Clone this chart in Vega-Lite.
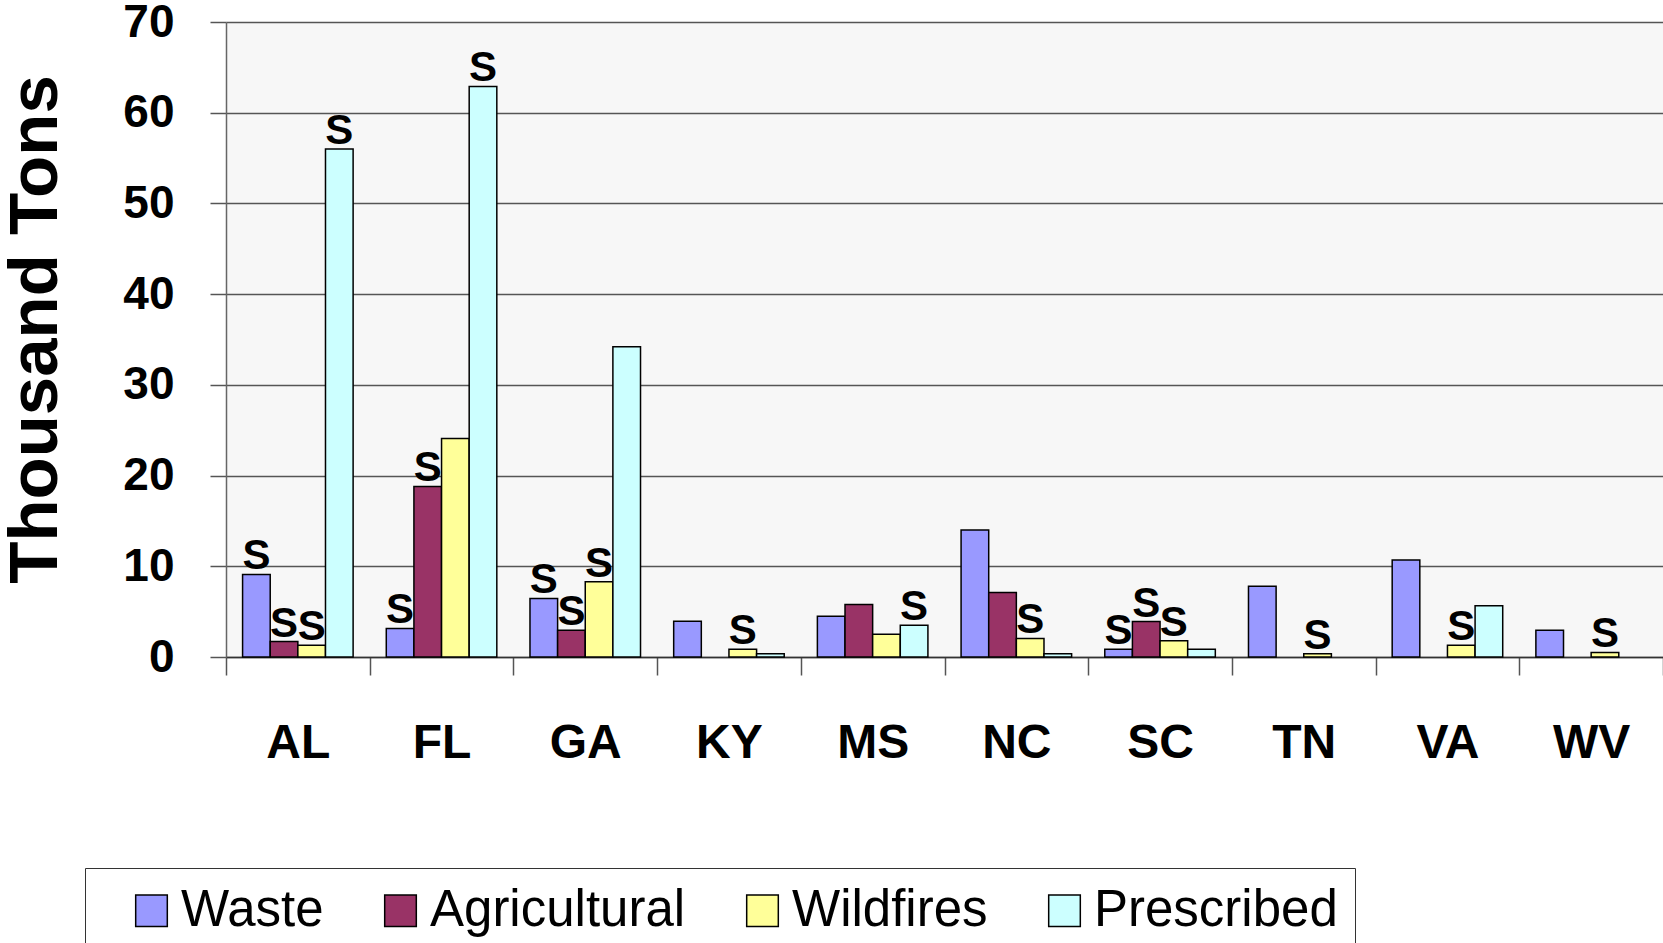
{
  "$schema": "https://vega.github.io/schema/vega-lite/v6.json",
  "width": 1437,
  "height": 635,
  "autosize": {"type": "none"},
  "padding": {"left": 226, "top": 22, "right": 0, "bottom": 286},
  "background": "white",
  "config": {
    "view": {"fill": "#f7f7f7", "stroke": null},
    "font": "Liberation Sans"
  },
  "data": {
    "values": [
      {"state": "AL", "type": "Waste", "value": 9.1, "s": "S"},
      {"state": "AL", "type": "Agricultural", "value": 1.7, "s": "S"},
      {"state": "AL", "type": "Wildfires", "value": 1.3, "s": "S"},
      {"state": "AL", "type": "Prescribed", "value": 56.0, "s": "S"},
      {"state": "FL", "type": "Waste", "value": 3.15, "s": "S"},
      {"state": "FL", "type": "Agricultural", "value": 18.8, "s": "S"},
      {"state": "FL", "type": "Wildfires", "value": 24.1, "s": ""},
      {"state": "FL", "type": "Prescribed", "value": 62.9, "s": "S"},
      {"state": "GA", "type": "Waste", "value": 6.45, "s": "S"},
      {"state": "GA", "type": "Agricultural", "value": 2.95, "s": "S"},
      {"state": "GA", "type": "Wildfires", "value": 8.3, "s": "S"},
      {"state": "GA", "type": "Prescribed", "value": 34.2, "s": ""},
      {"state": "KY", "type": "Waste", "value": 3.95, "s": ""},
      {"state": "KY", "type": "Wildfires", "value": 0.85, "s": "S"},
      {"state": "KY", "type": "Prescribed", "value": 0.35, "s": ""},
      {"state": "MS", "type": "Waste", "value": 4.5, "s": ""},
      {"state": "MS", "type": "Agricultural", "value": 5.8, "s": ""},
      {"state": "MS", "type": "Wildfires", "value": 2.5, "s": ""},
      {"state": "MS", "type": "Prescribed", "value": 3.5, "s": "S"},
      {"state": "NC", "type": "Waste", "value": 14.0, "s": ""},
      {"state": "NC", "type": "Agricultural", "value": 7.1, "s": ""},
      {"state": "NC", "type": "Wildfires", "value": 2.05, "s": "S"},
      {"state": "NC", "type": "Prescribed", "value": 0.35, "s": ""},
      {"state": "SC", "type": "Waste", "value": 0.85, "s": "S"},
      {"state": "SC", "type": "Agricultural", "value": 3.9, "s": "S"},
      {"state": "SC", "type": "Wildfires", "value": 1.8, "s": "S"},
      {"state": "SC", "type": "Prescribed", "value": 0.85, "s": ""},
      {"state": "TN", "type": "Waste", "value": 7.8, "s": ""},
      {"state": "TN", "type": "Wildfires", "value": 0.35, "s": "S"},
      {"state": "VA", "type": "Waste", "value": 10.7, "s": ""},
      {"state": "VA", "type": "Wildfires", "value": 1.3, "s": "S"},
      {"state": "VA", "type": "Prescribed", "value": 5.65, "s": ""},
      {"state": "WV", "type": "Waste", "value": 2.95, "s": ""},
      {"state": "WV", "type": "Wildfires", "value": 0.5, "s": "S"}
    ]
  },
  "encoding": {
    "x": {
      "field": "state",
      "type": "nominal",
      "sort": ["AL", "FL", "GA", "KY", "MS", "NC", "SC", "TN", "VA", "WV"],
      "scale": {"paddingInner": 0, "paddingOuter": 0},
      "axis": {
        "title": null,
        "labelAngle": 0,
        "tickBand": "extent",
        "tickSize": 18,
        "tickWidth": 1.5,
        "tickColor": "#555555",
        "domainColor": "#333333",
        "domainWidth": 1.5,
        "labelPadding": 44,
        "labelFontSize": 48,
        "labelFontWeight": "bold",
        "labelColor": "black",
        "labelFont": "Liberation Sans"
      }
    },
    "xOffset": {
      "field": "type",
      "type": "nominal",
      "scale": {"domain": ["Waste", "Agricultural", "Wildfires", "Prescribed"], "paddingInner": 0, "paddingOuter": 0.6}
    },
    "y": {
      "field": "value",
      "type": "quantitative",
      "scale": {"domain": [0, 70], "nice": false},
      "axis": {
        "title": "Thousand Tons",
        "values": [0, 10, 20, 30, 40, 50, 60, 70],
        "grid": true,
        "gridColor": "#555555",
        "gridWidth": 1.5,
        "tickSize": 16,
        "tickColor": "#555555",
        "tickWidth": 1.5,
        "domainColor": "#666666",
        "domainWidth": 1.5,
        "labelPadding": 36,
        "labelFontSize": 46,
        "labelFontWeight": "bold",
        "labelColor": "black",
        "labelFont": "Liberation Sans",
        "titleFontSize": 69,
        "titleFontWeight": "bold",
        "titleColor": "black",
        "titleFont": "Liberation Sans",
        "titleX": -170,
        "titleY": 307,
        "titleAngle": 270,
        "titleAlign": "center",
        "titleBaseline": "alphabetic"
      }
    }
  },
  "layer": [
    {
      "mark": {"type": "bar", "stroke": "black", "strokeWidth": 1.5},
      "encoding": {
        "color": {
          "field": "type",
          "type": "nominal",
          "scale": {
            "domain": ["Waste", "Agricultural", "Wildfires", "Prescribed"],
            "range": ["#9999FF", "#993366", "#FFFF99", "#CCFFFF"]
          },
          "legend": {
            "title": null,
            "orient": "none",
            "legendX": -141,
            "legendY": 846,
            "direction": "horizontal",
            "symbolType": "square",
            "symbolSize": 1000,
            "symbolStrokeColor": "black",
            "symbolStrokeWidth": 1.5,
            "symbolOpacity": 1,
            "symbolOffset": 24,
            "labelFontSize": 51,
            "labelLimit": 0,
            "labelFont": "Liberation Sans",
            "labelColor": "black",
            "labelOffset": 4,
            "columnPadding": 27,
            "padding": 17,
            "strokeColor": "#333333",
            "fillColor": "white"
          }
        }
      }
    },
    {
      "mark": {
        "type": "text",
        "baseline": "alphabetic",
        "dy": -5,
        "fontSize": 42,
        "fontWeight": "bold",
        "font": "Liberation Sans",
        "color": "black"
      },
      "encoding": {
        "text": {"field": "s"}
      }
    }
  ]
}
